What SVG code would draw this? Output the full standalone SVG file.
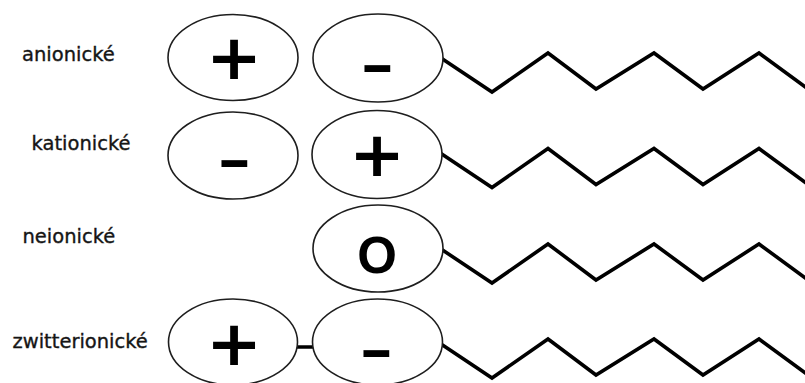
<svg xmlns="http://www.w3.org/2000/svg" width="805" height="383" viewBox="0 0 805 383">
  <style>
    .label { font-family: "DejaVu Sans", "Liberation Sans", sans-serif; font-size: 19.5px; fill: #151515; stroke: #151515; stroke-width: 0.35; }
    .head { fill: #ffffff; stroke: #1e1e1e; stroke-width: 1.6; }
    .tail { fill: none; stroke: #000000; stroke-width: 3.6; stroke-linejoin: miter; }
    .sign { font-weight: bold; fill: #000000; text-anchor: middle; }
    .plus { font-family: "DejaVu Sans", sans-serif; font-size: 62px; }
    .minus { font-family: "Liberation Sans", Arial, sans-serif; font-size: 58px; }
    .zero { font-family: "Liberation Sans", Arial, sans-serif; font-size: 51px; }
    .bond { stroke: #000000; stroke-width: 3.5; }
  </style>

  <rect width="805" height="383" fill="#ffffff"/>

  <!-- row labels -->
  <g id="labels">
    <text class="label" x="22" y="61">anionické</text>
    <text class="label" x="31.5" y="150">kationické</text>
    <text class="label" x="22.5" y="243">neionické</text>
    <text class="label" x="12.5" y="348">zwitterionické</text>
  </g>

  <!-- hydrophobic tails (zigzag chains) -->
  <g id="tails">
    <path class="tail" d="M441,58 L492,92 L548,53 L596,89 L654,53 L703,89 L759,53 L808,89"/>
    <path class="tail" d="M441,153.5 L492,187.5 L548,148.5 L596,184.5 L654,148.5 L703,184.5 L759,148.5 L808,184.5"/>
    <path class="tail" d="M441,249 L492,283 L548,244 L596,280 L654,244 L703,280 L759,244 L808,280"/>
    <path class="tail" d="M441,344 L492,378 L548,339 L596,375 L654,339 L703,375 L759,339 L808,375"/>
  </g>

  <!-- link between the two charged heads of the zwitterion -->
  <g id="connectors">
    <line class="bond" x1="296" y1="347" x2="314" y2="347"/>
  </g>

  <!-- anionic -->
  <g id="anionic-plus">
    <ellipse class="head" cx="233" cy="57.5" rx="65" ry="43"/>
    <text class="sign plus" transform="translate(234,60) scale(1.08,1)" y="19.4">+</text>
  </g>
  <g id="anionic-minus">
    <ellipse class="head" cx="378" cy="58" rx="65" ry="44"/>
    <text class="sign minus" transform="translate(377.5,68.5) scale(1.75,1)" y="15">-</text>
  </g>

  <!-- cationic -->
  <g id="cationic-minus">
    <ellipse class="head" cx="233" cy="155.5" rx="65" ry="43.5"/>
    <text class="sign minus" transform="translate(234.5,163.5) scale(1.75,1)" y="15">-</text>
  </g>
  <g id="cationic-plus">
    <ellipse class="head" cx="377" cy="154.5" rx="65" ry="44"/>
    <text class="sign plus" transform="translate(377,156.5) scale(1.08,1)" y="19.4">+</text>
  </g>

  <!-- nonionic -->
  <g id="nonionic-head">
    <ellipse class="head" cx="378" cy="248.5" rx="65" ry="43.5"/>
    <text class="sign zero" x="377" y="272.5">O</text>
  </g>

  <!-- zwitterionic -->
  <g id="zwitterionic-plus">
    <ellipse class="head" cx="233" cy="342" rx="64.5" ry="43"/>
    <text class="sign plus" transform="translate(234,346) scale(1.08,1)" y="19.4">+</text>
  </g>
  <g id="zwitterionic-minus">
    <ellipse class="head" cx="377.5" cy="342" rx="65" ry="43"/>
    <text class="sign minus" transform="translate(376.5,353.5) scale(1.75,1)" y="15">-</text>
  </g>
</svg>
